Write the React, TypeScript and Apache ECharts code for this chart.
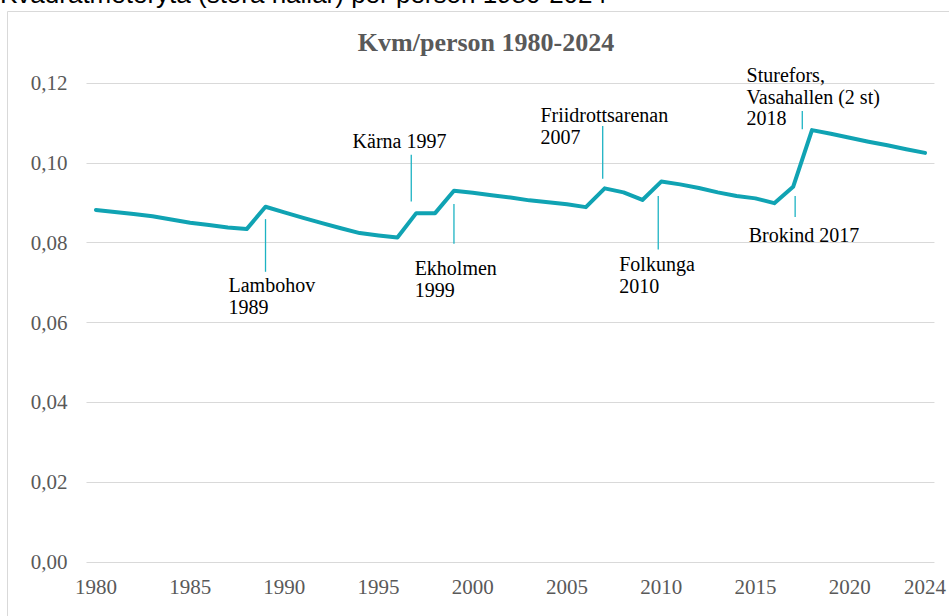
import React, { useEffect, useRef } from "react";
import * as echarts from "echarts";

const years: string[] = [
  "1980", "1981", "1982", "1983", "1984", "1985", "1986", "1987", "1988", "1989",
  "1990", "1991", "1992", "1993", "1994", "1995", "1996", "1997", "1998", "1999",
  "2000", "2001", "2002", "2003", "2004", "2005", "2006", "2007", "2008", "2009",
  "2010", "2011", "2012", "2013", "2014", "2015", "2016", "2017", "2018", "2019",
  "2020", "2021", "2022", "2023", "2024",
];

const kvmPerPerson: number[] = [
  0.0882, 0.0877, 0.0872, 0.0866, 0.0858, 0.085, 0.0844, 0.0838, 0.0834, 0.089,
  0.0876, 0.0862, 0.0849, 0.0836, 0.0824, 0.0818, 0.0813, 0.0874, 0.0874, 0.093,
  0.0925, 0.0919, 0.0913, 0.0906, 0.0901, 0.0896, 0.0889, 0.0936, 0.0926, 0.0907,
  0.0953, 0.0946, 0.0937, 0.0926, 0.0917, 0.0911, 0.0899, 0.094, 0.1082, 0.1073,
  0.1063, 0.1053, 0.1044, 0.1034, 0.1025,
];

const yTicks = { min: 0, max: 0.12, interval: 0.02 };

const pageTitle = "Kvadratmeteryta (stora hallar) per person 1980-2024";
const chartTitle = "Kvm/person 1980-2024";

const annoYears: string[] = ["1989", "1997", "1999", "2007", "2010", "2017", "2018"];
const annoTexts: string[] = [
  "Lambohov\n1989",
  "Kärna 1997",
  "Ekholmen\n1999",
  "Friidrottsarenan\n2007",
  "Folkunga\n2010",
  "Brokind 2017",
  "Sturefors,\nVasahallen (2 st)\n2018",
];
const annoTop: number[] = [0.0859, 0.102, 0.0897, 0.1092, 0.0917, 0.0917, 0.113];
const annoBottom: number[] = [0.0727, 0.0903, 0.0797, 0.096, 0.0783, 0.0864, 0.1084];

const leaderNudge: number[] = [0, -5, 0, -2, -3, 2, -9.7];
const labelOffsets: [number, number][] = [
  [-37, 55.5],
  [-58.7, -24.5],
  [-39.3, 53.5],
  [-62.3, -21.8],
  [-39, 57.5],
  [-46.4, 28.2],
  [-55.7, -46.5],
];

const LINE_COLOR = "#10A3B3";
const LEADER_COLOR = "#1DB3C3";
const GRID_COLOR = "#D9D9D9";
const AXIS_TEXT = "#595959";
const SERIF = '"Liberation Serif", "Times New Roman", serif';

export default function App() {
  const ref = useRef<HTMLDivElement>(null);

  useEffect(() => {
    if (!ref.current) return;
    const chart = echarts.init(ref.current, undefined, { renderer: "svg" });
    chart.setOption({
      animation: false,
      backgroundColor: "#ffffff",
      grid: { left: 86.5, right: 10.5, top: 83, bottom: 54, containLabel: false },
      xAxis: {
        type: "category",
        data: years,
        boundaryGap: true,
        axisLine: { show: false },
        axisTick: { show: false },
        splitLine: { show: false },
        axisLabel: {
          interval: (index: number) => index % 5 === 0 || index === years.length - 1,
          color: AXIS_TEXT,
          fontFamily: SERIF,
          fontSize: 21,
          margin: 14,
        },
      },
      yAxis: {
        type: "value",
        min: yTicks.min,
        max: yTicks.max,
        interval: yTicks.interval,
        axisLine: { show: false },
        axisTick: { show: false },
        splitLine: { lineStyle: { color: GRID_COLOR, width: 1 } },
        axisLabel: {
          color: AXIS_TEXT,
          fontFamily: SERIF,
          fontSize: 21,
          margin: 19,
          formatter: (v: number) => v.toFixed(2).replace(".", ","),
        },
      },
      series: [
        {
          type: "line",
          data: kvmPerPerson,
          symbol: "none",
          lineStyle: { color: LINE_COLOR, width: 4, cap: "round", join: "round" },
          itemStyle: { color: LINE_COLOR },
          z: 3,
        },
      ],
    });

    const graphics: any[] = [
      {
        type: "rect",
        shape: { x: 7.5, y: 11.5, width: 980, height: 640 },
        style: { fill: "none", stroke: GRID_COLOR, lineWidth: 1 },
        silent: true,
        z: 0,
      },
      {
        type: "text",
        x: 0,
        y: -6,
        style: {
          text: pageTitle,
          fill: "#000000",
          font: '26px "Liberation Sans", Arial, sans-serif',
          textAlign: "left",
          textVerticalAlign: "middle",
          align: "left",
          verticalAlign: "middle",
        },
        silent: true,
      },
      {
        type: "text",
        x: 486,
        y: 42,
        style: {
          text: chartTitle,
          fill: AXIS_TEXT,
          font: 'bold 26px "Liberation Serif", "Times New Roman", serif',
          textAlign: "center",
          textVerticalAlign: "middle",
          align: "center",
          verticalAlign: "middle",
        },
        silent: true,
      },
    ];

    annoYears.forEach((yr, i) => {
      const idx = years.indexOf(yr);
      const pTop = chart.convertToPixel({ xAxisIndex: 0, yAxisIndex: 0 }, [idx, annoTop[i]]) as number[];
      const pBot = chart.convertToPixel({ xAxisIndex: 0, yAxisIndex: 0 }, [idx, annoBottom[i]]) as number[];
      const lx = pTop[0] + leaderNudge[i];
      graphics.push({
        type: "line",
        shape: { x1: lx, y1: pTop[1], x2: lx, y2: pBot[1] },
        style: { stroke: LEADER_COLOR, lineWidth: 1.3 },
        silent: true,
        z: 2,
      });
      const [dx, dy] = labelOffsets[i];
      graphics.push({
        type: "text",
        x: lx + dx,
        y: pTop[1] + dy,
        style: {
          text: annoTexts[i],
          fill: "#000000",
          font: '20px "Liberation Serif", "Times New Roman", serif',
          lineHeight: 21.5,
          textAlign: "left",
          textVerticalAlign: "top",
          align: "left",
          verticalAlign: "top",
        },
        silent: true,
        z: 4,
      });
    });

    chart.setOption({ graphic: graphics });

    return () => {
      chart.dispose();
    };
  }, []);

  return (
    <div
      ref={ref}
      style={{ position: "fixed", left: 0, top: 0, width: 949, height: 616, background: "#fff" }}
    />
  );
}
